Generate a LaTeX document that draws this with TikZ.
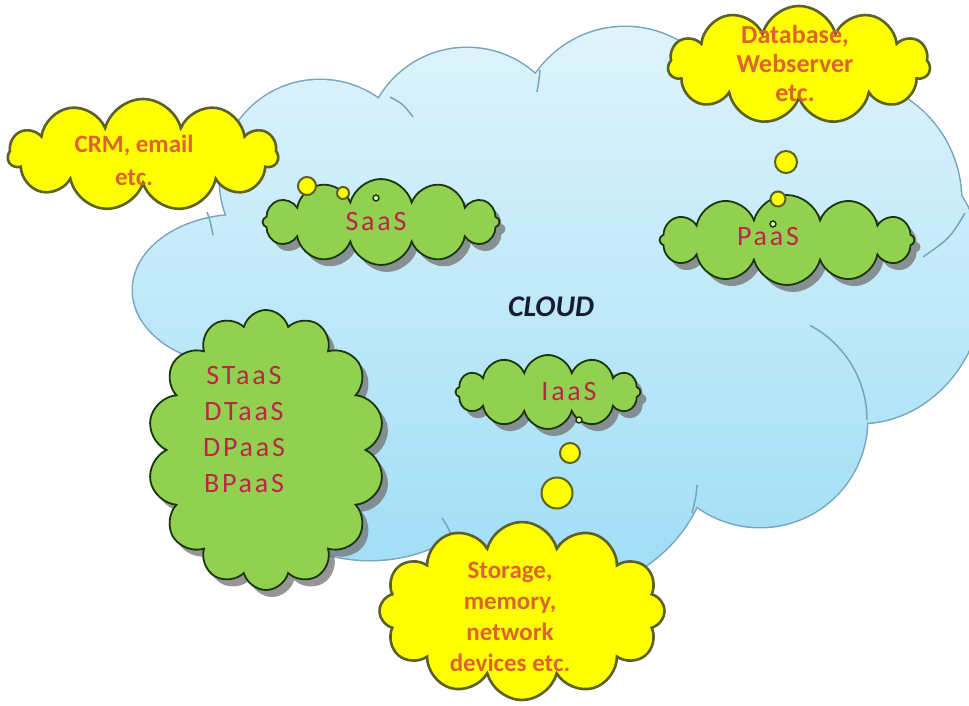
\documentclass[tikz,border=0pt]{standalone}
\usepackage{fontspec}
\setmainfont{Carlito}
\newfontfamily\cfont{Carlito}
\newfontfamily\gfont[LetterSpace=10]{Carlito}
\usetikzlibrary{shapes.symbols,shadows}
\definecolor{bgtop}{RGB}{224,244,251}
\definecolor{bgbot}{RGB}{158,221,245}
\definecolor{bgline}{RGB}{118,165,190}
\definecolor{yfill}{RGB}{255,255,0}
\definecolor{yline}{RGB}{92,98,38}
\definecolor{gfill}{RGB}{146,208,80}
\definecolor{gline}{RGB}{25,55,15}
\definecolor{ytxt}{RGB}{222,100,45}
\definecolor{gtxt}{RGB}{185,40,70}
\definecolor{cloudtxt}{RGB}{20,30,50}
\begin{document}
\begin{tikzpicture}[x=1pt,y=-1pt,
  ycloud/.style={cloud, cloud puffs=11, cloud ignores aspect, draw=yline, fill=yfill, line width=2.6pt, inner sep=0pt},
  gcloud/.style={cloud, cloud puffs=12, cloud ignores aspect, draw=gline, fill=gfill, line width=1.8pt, inner sep=0pt,
     drop shadow={shadow xshift=6pt, shadow yshift=-7pt, fill=black!55, opacity=0.75}},
  bubble/.style={circle, draw=yline, fill=yfill, line width=2pt, inner sep=0pt},
  tinybub/.style={circle, draw=gline, fill={rgb,255:red,225;green,240;blue,190}, line width=1.4pt, inner sep=0pt, minimum size=6pt},
  ytext/.style={align=center, inner sep=0pt, text=ytxt},
  gtext/.style={align=center, inner sep=0pt, text=gtxt, font=\gfont\fontsize{28}{36}\selectfont},
  seam/.style={draw=bgline, line width=1.5pt}
]
\useasboundingbox (0,0) rectangle (969,706);
\fill[white] (0,0) rectangle (969,706);
% big background cloud
\begin{scope}
\clip (0,0) rectangle (969,706);
\foreach \cx/\cy/\rx/\ry in {240/290/107/75, 320/180/100/100, 467/150/102/102, 625/140/110/113,
  760/150/100/100, 840/200/121/121, 860/280/125/143, 760/420/107/107, 560/440/152/152,
  370/400/160/160, 550/300/250/150}
  \draw[draw=bgline, line width=3pt] (\cx,\cy) ellipse [x radius=\rx, y radius=\ry];
\begin{scope}
\clip (240,290) ellipse [x radius=107, y radius=75]
  (320,180) ellipse [x radius=100, y radius=100]
  (467,150) ellipse [x radius=102, y radius=102]
  (625,140) ellipse [x radius=110, y radius=113]
  (760,150) ellipse [x radius=100, y radius=100]
  (840,200) ellipse [x radius=121, y radius=121]
  (860,280) ellipse [x radius=125, y radius=143]
  (760,420) ellipse [x radius=107, y radius=107]
  (560,440) ellipse [x radius=152, y radius=152]
  (370,400) ellipse [x radius=160, y radius=160]
  (550,300) ellipse [x radius=250, y radius=150];
\shade[top color=bgtop, bottom color=bgbot] (0,15) rectangle (969,600);
\end{scope}
\draw[seam] (390,97) .. controls (403,104) .. (413,117);
\draw[seam] (540,70) .. controls (539,80) .. (537,92);
\draw[seam] (965,213) .. controls (950,238) .. (923,257);
\draw[seam] (760,420) ++(-62:107) arc[start angle=-62, end angle=0, radius=107];
\draw[seam] (697,485) .. controls (696,497) .. (692,513);
\draw[seam] (442,518) .. controls (448,527) .. (454,542);
\draw[seam] (207,212) .. controls (210,220) .. (213,235);
\end{scope}
% green clouds
\node[gcloud, minimum width=237pt, minimum height=86pt] (saas) at (381,222) {};
\node[gcloud, minimum width=255pt, minimum height=90pt] (paas) at (787,240) {};
\node[gcloud, minimum width=185pt, minimum height=74pt] (iaas) at (548,392) {};
\node[gcloud, cloud puffs=14, minimum width=237pt, minimum height=280pt] (stack) at (266,450) {};
% yellow clouds
\node[ycloud, minimum width=270pt, minimum height=112pt] (crm) at (143,155) {};
\node[ycloud, minimum width=262pt, minimum height=118pt] (db) at (799,65) {};
\node[ycloud, cloud puffs=12, minimum width=285pt, minimum height=178pt] (stor) at (522,611) {};
% bubbles
\node[bubble, minimum size=18pt] (sb1) at (307,186) {};
\node[bubble, minimum size=12pt] (sb2) at (343,193) {};
\node[tinybub] (sb3) at (376,198) {};
\node[bubble, minimum size=22pt] (pb1) at (786,162) {};
\node[bubble, minimum size=15pt] (pb2) at (778,199) {};
\node[tinybub] (pb3) at (773,224) {};
\node[tinybub] (ib3) at (579,420) {};
\node[bubble, minimum size=20pt] (ib2) at (570,453) {};
\node[bubble, minimum size=31pt] (ib1) at (557,493) {};
% texts
\node[ytext, font=\cfont\bfseries\fontsize{25}{33}\selectfont] (crmtxt) at (134,160) {CRM, email\\etc.};
\node[ytext, font=\cfont\bfseries\fontsize{26}{29}\selectfont] (dbtxt) at (795,63) {Database,\\Webserver\\etc.};
\node[ytext, font=\cfont\bfseries\fontsize{25}{31}\selectfont] (stortxt) at (510,617) {Storage,\\memory,\\network\\devices etc.};
\node[gtext] (saastxt) at (376,222) {SaaS};
\node[gtext] (paastxt) at (768,237) {PaaS};
\node[gtext] (iaastxt) at (569,392) {IaaS};
\node[gtext] (stacktxt) at (244,430) {STaaS\\DTaaS\\DPaaS\\BPaaS};
\node[inner sep=0pt, text=cloudtxt, font=\cfont\bfseries\itshape\fontsize{30}{36}\selectfont] (cloudtxt) at (551,307) {CLOUD};
\end{tikzpicture}
\end{document}
